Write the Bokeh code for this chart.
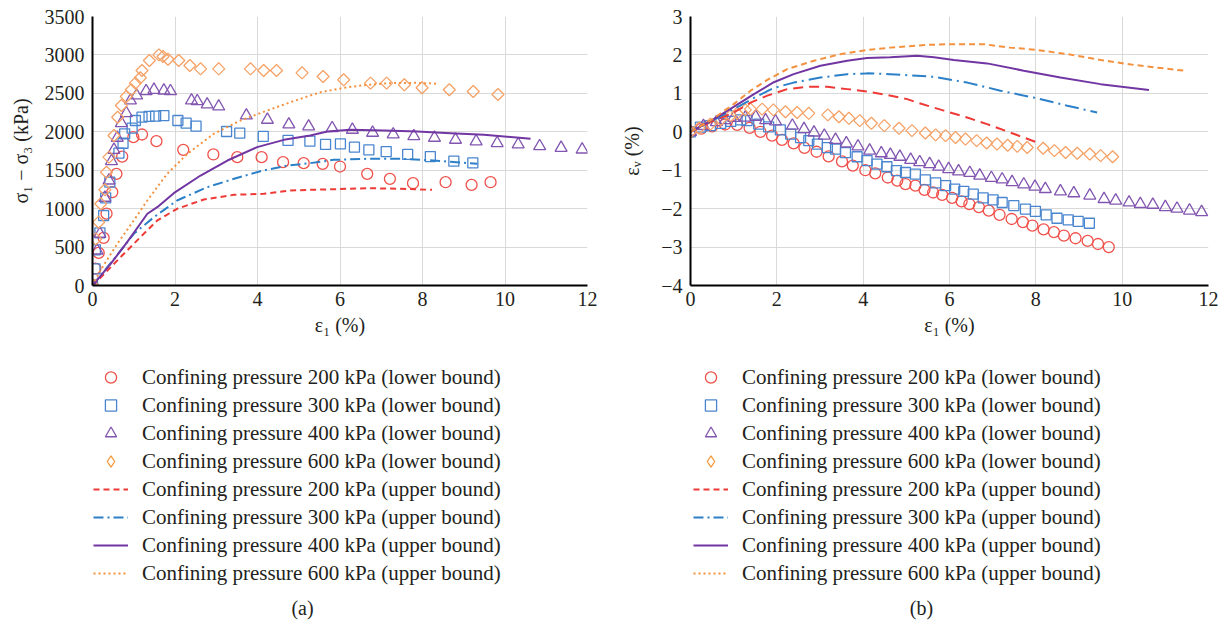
import math
from bokeh.plotting import figure
from bokeh.models import Legend, LegendItem, Label, FixedTicker, CustomJSTickFormatter, ColumnDataSource
from bokeh.layouts import row, column
from bokeh.embed import file_html
from bokeh.resources import INLINE

# ---------------- data: panel (a) deviator stress ----------------
x200L_a = [0, 0.07, 0.15, 0.27, 0.34, 0.48, 0.58, 0.72, 0.99, 1.2, 1.55, 2.2, 2.93, 3.51, 4.1, 4.62, 5.12, 5.58, 6.0, 6.66, 7.21, 7.77, 8.56, 9.19, 9.65]
y200L_a = [0, 220, 425, 620, 935, 1215, 1453, 1678, 1930, 1965, 1878, 1765, 1705, 1670, 1670, 1605, 1592, 1583, 1548, 1453, 1388, 1331, 1344, 1310, 1344]
x300L_a = [0, 0.06, 0.07, 0.18, 0.27, 0.32, 0.42, 0.64, 0.74, 0.78, 0.96, 1.04, 1.2, 1.37, 1.53, 1.73, 2.07, 2.27, 2.51, 3.25, 3.57, 4.14, 4.74, 5.27, 5.65, 6.01, 6.35, 6.70, 7.12, 7.64, 8.19, 8.76, 9.22]
y300L_a = [0, 217, 464, 686, 911, 1141, 1344, 1722, 1851, 1973, 2047, 2147, 2190, 2200, 2205, 2210, 2147, 2112, 2073, 2004, 1982, 1939, 1887, 1878, 1835, 1843, 1800, 1765, 1743, 1705, 1678, 1617, 1596]
x400L_a = [0, 0.11, 0.18, 0.3, 0.4, 0.46, 0.52, 0.6, 0.7, 0.82, 0.92, 1.07, 1.3, 1.49, 1.73, 1.89, 2.4, 2.54, 2.78, 3.06, 3.73, 4.24, 4.76, 5.24, 5.81, 6.3, 6.79, 7.29, 7.79, 8.29, 8.8, 9.3, 9.81, 10.32, 10.84, 11.36, 11.87]
y400L_a = [0, 455, 673, 1141, 1366, 1617, 1765, 1922, 2112, 2242, 2407, 2472, 2528, 2546, 2537, 2528, 2407, 2398, 2355, 2329, 2212, 2156, 2095, 2069, 2047, 2026, 1987, 1965, 1943, 1922, 1896, 1874, 1852, 1835, 1813, 1791, 1769]
x600L_a = [0, 0.08, 0.15, 0.2, 0.3, 0.34, 0.4, 0.52, 0.61, 0.7, 0.82, 0.94, 1.04, 1.16, 1.2, 1.38, 1.61, 1.71, 1.83, 2.09, 2.36, 2.62, 3.06, 3.83, 4.15, 4.46, 5.08, 5.59, 6.09, 6.74, 7.13, 7.56, 7.99, 8.65, 9.23, 9.83]
y600L_a = [0, 607, 824, 1063, 1245, 1474, 1670, 1952, 2190, 2342, 2459, 2546, 2633, 2702, 2797, 2927, 3001, 2979, 2944, 2927, 2862, 2819, 2819, 2819, 2797, 2797, 2767, 2719, 2676, 2633, 2633, 2611, 2572, 2546, 2524, 2485]

x200U_a = [0, 0.3, 0.68, 1.16, 1.57, 2.05, 2.7, 3.43, 4.15, 4.8, 5.28, 5.85, 6.66, 7.47, 8.23]
y200U_a = [0, 160, 369, 629, 846, 998, 1119, 1180, 1193, 1236, 1245, 1253, 1266, 1258, 1245]
x300U_a = [0, 0.5, 1.0, 1.49, 2.05, 2.78, 3.43, 4.07, 4.72, 5.28, 5.85, 6.66, 7.47, 8.27, 9.33]
y300U_a = [0, 330, 672, 889, 1106, 1279, 1388, 1487, 1561, 1592, 1635, 1648, 1648, 1626, 1583]
x400U_a = [0, 0.44, 0.84, 1.33, 1.57, 1.97, 2.62, 3.27, 3.99, 4.64, 5.28, 5.69, 6.25, 7.06, 7.87, 8.68, 9.49, 10.62]
y400U_a = [0, 282, 564, 933, 1019, 1201, 1431, 1626, 1800, 1895, 1952, 2004, 2026, 2017, 2004, 1982, 1961, 1909]
x600U_a = [0, 0.19, 0.6, 1.0, 1.33, 1.81, 2.3, 2.94, 3.59, 4.24, 4.8, 5.28, 5.53, 6.09, 6.66, 7.22, 7.87, 8.4]
y600U_a = [0, 195, 542, 846, 1106, 1453, 1713, 1974, 2147, 2277, 2385, 2472, 2515, 2572, 2611, 2633, 2637, 2624]

# ---------------- data: panel (b) volumetric strain ----------------
x200L_b = [0, 0.25, 0.5, 0.8, 1.08, 1.37, 1.62, 1.89, 2.12, 2.39, 2.64, 2.92, 3.2, 3.51, 3.76, 4.05, 4.28, 4.57, 4.79, 4.98, 5.21, 5.42, 5.62, 5.83, 6.06, 6.28, 6.46, 6.68, 6.91, 7.16, 7.44, 7.7, 7.92, 8.18, 8.42, 8.65, 8.92, 9.2, 9.44, 9.69]
y200L_b = [0, 0.08, 0.14, 0.19, 0.18, 0.10, 0.0, -0.10, -0.21, -0.30, -0.42, -0.52, -0.64, -0.77, -0.88, -1.0, -1.08, -1.19, -1.27, -1.36, -1.4, -1.51, -1.58, -1.64, -1.72, -1.81, -1.88, -1.96, -2.05, -2.16, -2.27, -2.35, -2.44, -2.54, -2.61, -2.70, -2.77, -2.84, -2.92, -3.0]
x300L_b = [0, 0.23, 0.46, 0.7, 0.93, 1.16, 1.31, 1.58, 1.81, 2.08, 2.32, 2.55, 2.74, 2.94, 3.17, 3.36, 3.59, 3.86, 4.09, 4.32, 4.55, 4.77, 4.98, 5.21, 5.44, 5.68, 5.91, 6.12, 6.33, 6.55, 6.78, 7.01, 7.22, 7.49, 7.76, 7.99, 8.24, 8.49, 8.75, 8.98, 9.24]
y300L_b = [0, 0.12, 0.16, 0.22, 0.27, 0.31, 0.29, 0.20, 0.13, 0.05, -0.06, -0.15, -0.23, -0.32, -0.41, -0.45, -0.54, -0.65, -0.75, -0.84, -0.91, -1.01, -1.06, -1.10, -1.25, -1.33, -1.40, -1.49, -1.55, -1.62, -1.72, -1.77, -1.84, -1.92, -2.01, -2.07, -2.16, -2.25, -2.29, -2.33, -2.38]
x400L_b = [0, 0.3, 0.6, 0.8, 1.0, 1.27, 1.51, 1.74, 1.97, 2.36, 2.63, 2.86, 3.1, 3.36, 3.61, 3.88, 4.15, 4.42, 4.63, 4.85, 5.1, 5.31, 5.54, 5.75, 5.98, 6.21, 6.47, 6.7, 6.97, 7.22, 7.45, 7.72, 7.98, 8.22, 8.57, 8.88, 9.25, 9.58, 9.85, 10.16, 10.42, 10.71, 11.0, 11.27, 11.56, 11.84]
y400L_b = [0, 0.15, 0.25, 0.3, 0.36, 0.37, 0.39, 0.30, 0.27, 0.16, 0.07, -0.02, -0.10, -0.21, -0.30, -0.38, -0.49, -0.56, -0.60, -0.65, -0.73, -0.79, -0.84, -0.91, -0.97, -1.03, -1.07, -1.14, -1.20, -1.24, -1.31, -1.37, -1.43, -1.49, -1.55, -1.60, -1.66, -1.75, -1.79, -1.84, -1.88, -1.90, -1.96, -2.0, -2.05, -2.09]
x600L_b = [0, 0.2, 0.46, 0.7, 0.93, 1.08, 1.27, 1.39, 1.66, 1.92, 2.2, 2.47, 2.74, 3.18, 3.44, 3.67, 3.92, 4.19, 4.49, 4.83, 5.13, 5.44, 5.68, 5.91, 6.14, 6.37, 6.63, 6.86, 7.1, 7.35, 7.57, 7.8, 8.17, 8.43, 8.69, 8.96, 9.25, 9.5, 9.78]
y600L_b = [0, 0.1, 0.2, 0.32, 0.42, 0.48, 0.57, 0.59, 0.59, 0.57, 0.52, 0.50, 0.48, 0.44, 0.39, 0.35, 0.29, 0.22, 0.16, 0.09, 0.03, -0.03, -0.08, -0.10, -0.15, -0.19, -0.23, -0.29, -0.32, -0.35, -0.38, -0.41, -0.43, -0.49, -0.54, -0.56, -0.58, -0.62, -0.65]

x200U_b = [0, 0.54, 1.0, 1.39, 1.78, 2.24, 2.7, 3.17, 3.63, 4.09, 4.55, 5.02, 5.25, 5.87, 6.41, 6.87, 7.41, 8.03]
y200U_b = [0, 0.29, 0.50, 0.76, 0.94, 1.11, 1.17, 1.17, 1.11, 1.05, 0.96, 0.85, 0.76, 0.55, 0.37, 0.20, -0.02, -0.28]
x300U_b = [0, 0.54, 1.0, 1.47, 1.93, 2.39, 3.01, 3.63, 4.09, 4.63, 5.64, 6.41, 7.18, 7.95, 8.73, 9.42]
y300U_b = [0, 0.31, 0.59, 0.88, 1.14, 1.28, 1.41, 1.50, 1.52, 1.50, 1.43, 1.28, 1.07, 0.89, 0.68, 0.50]
x400U_b = [0, 0.54, 1.0, 1.47, 1.93, 2.39, 3.01, 3.63, 4.09, 4.63, 5.25, 5.64, 6.1, 6.87, 7.72, 8.57, 9.5, 10.62]
y400U_b = [0, 0.33, 0.65, 0.98, 1.29, 1.50, 1.72, 1.85, 1.92, 1.94, 1.98, 1.94, 1.87, 1.78, 1.59, 1.41, 1.24, 1.09]
x600U_b = [0, 0.46, 1.0, 1.39, 1.78, 2.24, 2.86, 3.47, 4.09, 4.63, 5.44, 6.02, 6.79, 7.41, 8.03, 8.73, 9.5, 10.27, 11.43]
y600U_b = [0, 0.29, 0.72, 1.07, 1.35, 1.63, 1.85, 2.02, 2.13, 2.19, 2.26, 2.28, 2.28, 2.19, 2.13, 2.02, 1.87, 1.74, 1.59]

# ---------------- labels / ticks ----------------
x_ticks = [0, 2, 4, 6, 8, 10, 12]
y_ticks_a = [0, 500, 1000, 1500, 2000, 2500, 3000, 3500]
y_ticks_b = [-4, -3, -2, -1, 0, 1, 2, 3]
legend_labels = [
    "Confining pressure 200 kPa (lower bound)",
    "Confining pressure 300 kPa (lower bound)",
    "Confining pressure 400 kPa (lower bound)",
    "Confining pressure 600 kPa (lower bound)",
    "Confining pressure 200 kPa (upper bound)",
    "Confining pressure 300 kPa (upper bound)",
    "Confining pressure 400 kPa (upper bound)",
    "Confining pressure 600 kPa (upper bound)",
]
captions = ["(a)", "(b)"]

FONT = "Liberation Serif"
TXT = "#231f20"
RED_M, BLUE_M, PURPLE_M, ORANGE_M = "#F0504A", "#4A86CF", "#8155B0", "#F5A267"
RED_L, BLUE_L, PURPLE_L, ORANGE_L = "#EE3A36", "#2C80C8", "#7236A3", "#F4913F"

TOP_H = 350
BOT_H = 274
W_A, W_B = 600, 626

neg_fmt = CustomJSTickFormatter(code="return tick < 0 ? '\u2212' + Math.abs(tick) : String(tick);")

MARKERS = [
    dict(marker="circle", line_color=RED_M),
    dict(marker="square", line_color=BLUE_M),
    dict(marker="triangle", line_color=PURPLE_M),
    dict(marker="square", angle=math.pi / 4, line_color=ORANGE_M),
]
# legend keys (the legend ignores marker rotation, so use Bokeh's diamond there)
LEGEND_MARKERS = MARKERS[:3] + [dict(marker="diamond", line_color="#F39A3C")]
PLOT_SIZES = [11, 10, 12, 8.5]
LEGEND_LINES = [
    dict(line_color=RED_L, line_dash="6 4"),
    dict(line_color=BLUE_L, line_dash="10 4 2 4"),
    dict(line_color=PURPLE_L),
    dict(line_color=ORANGE_L, line_dash="2 3"),
]


def src(x, y):
    return ColumnDataSource(data=dict(x=x, y=y))


def make_fig(width, bl, br, yr, yticks, ylabel, ystand):
    p = figure(width=width, height=TOP_H, x_range=(0, 12), y_range=yr,
               output_backend="svg", toolbar_location=None,
               min_border_left=bl, min_border_right=br, min_border_top=16,
               min_border_bottom=TOP_H - 285)
    p.outline_line_color = None
    for ax in (p.xaxis[0], p.yaxis[0]):
        ax.axis_line_color = "black"
        ax.axis_line_width = 2
        ax.major_tick_in = 0
        ax.major_tick_out = 0
        ax.minor_tick_line_color = None
        ax.major_label_text_font = FONT
        ax.major_label_text_font_size = "20px"
        ax.major_label_text_color = TXT
        ax.axis_label_text_font = FONT
        ax.axis_label_text_font_size = "20px"
        ax.axis_label_text_font_style = "normal"
        ax.axis_label_text_color = TXT
    p.xaxis.ticker = FixedTicker(ticks=x_ticks)
    p.yaxis.ticker = FixedTicker(ticks=yticks)
    p.yaxis.formatter = neg_fmt
    p.xaxis.major_label_standoff = 6
    p.yaxis.major_label_standoff = 8
    p.xaxis.axis_label = "ε₁ (%)"
    p.xaxis.axis_label_standoff = 5
    p.yaxis.axis_label = ylabel
    p.yaxis.axis_label_standoff = ystand
    p.xgrid.ticker = FixedTicker(ticks=x_ticks)
    p.ygrid.ticker = FixedTicker(ticks=yticks)
    p.xgrid.grid_line_color = "#d9d9d9"
    p.ygrid.grid_line_color = "#d9d9d9"
    return p


def legend_fig(width, x0, caption, cx, msrcs, lsrcs):
    # frame covers the area under the chart; its data coords equal page pixels, so the
    # chart series (all x < 12) fall outside it and only serve as legend keys here
    q = figure(width=width, height=BOT_H, x_range=(x0 + 80, x0 + width), y_range=(TOP_H + BOT_H, TOP_H),
               x_axis_location=None, y_axis_location=None, output_backend="svg",
               toolbar_location=None, min_border_left=80, min_border_right=0,
               min_border_top=0, min_border_bottom=0)
    q.grid.visible = False
    q.outline_line_color = None
    rs = [q.scatter("x", "y", source=s, size=6, fill_color=None, line_width=1.3, **spec)
          for s, spec in zip(msrcs, LEGEND_MARKERS)]
    rs += [q.line("x", "y", source=s, line_width=2, **spec) for s, spec in zip(lsrcs, LEGEND_LINES)]
    items = [LegendItem(label=lab, renderers=[r]) for lab, r in zip(legend_labels, rs)]
    lg = Legend(items=items, location="top_left", glyph_width=35, glyph_height=28, label_height=28,
                spacing=0, padding=0, margin=13, label_standoff=14,
                label_text_font=FONT, label_text_font_size="21px", label_text_color=TXT,
                border_line_color=None, background_fill_alpha=0)
    q.add_layout(lg)
    q.add_layout(Label(x=cx, y=607, text=caption, text_align="center", text_baseline="middle",
                       text_font=FONT, text_font_size="20px", text_color=TXT))
    return q


# ---------------- panel (a) ----------------
ms_a = [src(x200L_a, y200L_a), src(x300L_a, y300L_a), src(x400L_a, y400L_a), src(x600L_a, y600L_a)]
ls_a = [src(x200U_a, y200U_a), src(x300U_a, y300U_a), src(x400U_a, y400U_a), src(x600U_a, y600U_a)]
pa = make_fig(W_A, 92, 13, (0, 3500), y_ticks_a, "σ₁ − σ₃ (kPa)", 10)
for s, spec, sz in zip(ms_a, MARKERS, PLOT_SIZES):
    pa.scatter("x", "y", source=s, size=sz, fill_color=None, line_width=1.3, **spec)
for s, spec in zip(ls_a, LEGEND_LINES):
    pa.line("x", "y", source=s, line_width=2, **spec)

# ---------------- panel (b) ----------------
ms_b = [src(x200L_b, y200L_b), src(x300L_b, y300L_b), src(x400L_b, y400L_b), src(x600L_b, y600L_b)]
ls_b = [src(x200U_b, y200U_b), src(x300U_b, y300U_b), src(x400U_b, y400U_b), src(x600U_b, y600U_b)]
pb = make_fig(W_B, 90, 18, (-4, 3), y_ticks_b, "εᵥ (%)", 15)
for s, spec, sz in zip(ms_b, MARKERS, PLOT_SIZES):
    pb.scatter("x", "y", source=s, size=sz, fill_color=None, line_width=1.3, **spec)
B_LINES = [
    dict(line_color=RED_L, line_dash="10 6"),
    dict(line_color=BLUE_L, line_dash="14 5 2 5"),
    dict(line_color=PURPLE_L),
    dict(line_color=ORANGE_L, line_dash="6 4"),
]
for s, spec in zip(ls_b, B_LINES):
    pb.line("x", "y", source=s, line_width=2, **spec)

la = legend_fig(W_A, 0, captions[0], 302, ms_a, ls_a)
lb = legend_fig(W_B, W_A, captions[1], 921, ms_b, ls_b)

layout = column(row(pa, pb), row(la, lb))
open("out.html", "w").write(file_html(layout, INLINE))
